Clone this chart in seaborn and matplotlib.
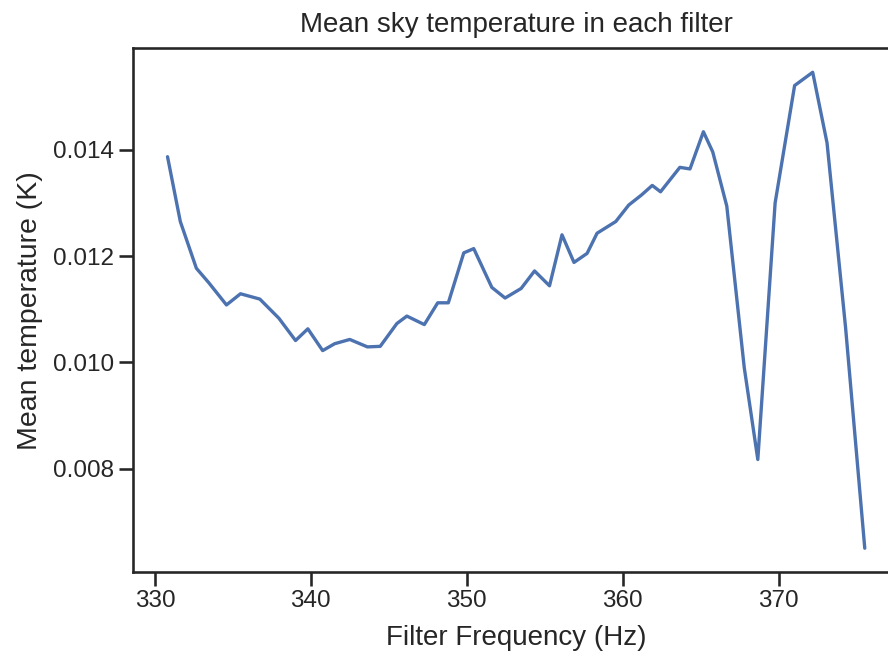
import matplotlib
matplotlib.use("Agg")
import matplotlib.pyplot as plt
import seaborn as sns
import pandas as pd

# Filter centre frequencies (Hz) and the mean sky temperature measured in each (K)
frequency_hz = [
    330.81, 331.63, 332.66, 333.45, 334.59, 335.49, 336.73, 337.95, 339.02, 339.81,
    340.76, 341.53, 342.50, 343.63, 344.45, 345.52, 346.16, 347.28, 348.14, 348.82,
    349.81, 350.45, 351.61, 352.46, 353.49, 354.35, 355.31, 356.11, 356.88, 357.72,
    358.36, 359.56, 360.39, 361.21, 361.90, 362.43, 363.67, 364.32, 365.18, 365.78,
    366.68, 367.80, 368.67, 369.78, 371.03, 372.19, 373.11, 374.30, 375.53,
]
mean_temp_k = [
    0.01387, 0.01265, 0.01177, 0.01150, 0.01108, 0.01129, 0.01119, 0.01083, 0.01041, 0.01063,
    0.01022, 0.01035, 0.01043, 0.01029, 0.01030, 0.01073, 0.01087, 0.01071, 0.01112, 0.01112,
    0.01206, 0.01214, 0.01141, 0.01121, 0.01139, 0.01172, 0.01144, 0.01240, 0.01188, 0.01205,
    0.01243, 0.01265, 0.01296, 0.01315, 0.01333, 0.01321, 0.01367, 0.01364, 0.01434, 0.01396,
    0.01294, 0.00990, 0.00817, 0.01300, 0.01521, 0.01546, 0.01413, 0.01065, 0.00650,
]

df = pd.DataFrame({"Filter Frequency (Hz)": frequency_hz,
                   "Mean temperature (K)": mean_temp_k})

sns.set_theme(style="ticks", context="talk")
plt.rcParams["font.family"] = ["Liberation Sans", "DejaVu Sans"]
plt.rcParams["xtick.major.size"] = 9.8
plt.rcParams["ytick.major.size"] = 9.8

fig = plt.figure(figsize=(8.88, 6.55), dpi=100)
ax = fig.add_axes([0.1494, 0.1267, 0.8637, 0.7993])

sns.lineplot(data=df, x="Filter Frequency (Hz)", y="Mean temperature (K)",
             ax=ax, color="#4C72B0", linewidth=2.4)

ax.set_title("Mean sky temperature in each filter", fontsize=20, pad=12)
ax.set_xlabel("Filter Frequency (Hz)", fontsize=20, labelpad=9)
ax.set_ylabel("Mean temperature (K)", fontsize=20.5, labelpad=7)
ax.set_xticks([330, 340, 350, 360, 370])
ax.set_yticks([0.008, 0.010, 0.012, 0.014])
ax.tick_params(labelsize=17.5)

fig.savefig("out.png", dpi=100)
